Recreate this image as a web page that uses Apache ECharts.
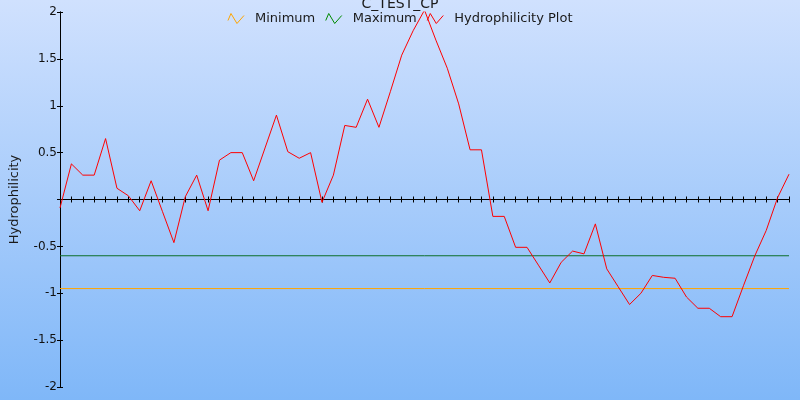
<!DOCTYPE html>
<html>
<head>
<meta charset="utf-8">
<script src="https://cdn.jsdelivr.net/npm/echarts@6/dist/echarts.min.js"></script>
<style>html,body{margin:0;padding:0;}#chart{width:800px;height:400px;}</style>
</head>
<body>
<div id="chart"></div>
<script>
// ---- data ----
var chartTitle = 'C_TEST_CP';
var yAxisName = 'Hydrophilicity';
var seriesNames = ['Minimum', 'Maximum', 'Hydrophilicity Plot'];
var positions = [];
for (var i = 0; i <= 64; i++) positions.push(i);
var hydrophilicity = [
  -0.09, 0.38, 0.26, 0.26, 0.65, 0.12, 0.04, -0.12, 0.20, -0.13,
  -0.46, 0.03, 0.26, -0.12, 0.42, 0.50, 0.50, 0.20, 0.55, 0.90,
  0.51, 0.44, 0.50, -0.03, 0.26, 0.79, 0.77, 1.07, 0.77, 1.15,
  1.54, 1.80, 2.02, 1.70, 1.40, 1.02, 0.53, 0.53, -0.18, -0.18,
  -0.51, -0.51, -0.70, -0.89, -0.67, -0.55, -0.58, -0.26, -0.74, -0.93,
  -1.12, -1.00, -0.81, -0.83, -0.84, -1.04, -1.16, -1.16, -1.25, -1.25,
  -0.92, -0.60, -0.33, 0.02, 0.27
];
var minimumLevel = -0.95;
var maximumLevel = -0.60;
var yTicks = [-2, -1.5, -1, -0.5, 0, 0.5, 1, 1.5, 2];

// ---- build ----
var font = 'DejaVu Sans';
var plotData = positions.map(function (p, i) { return [p, hydrophilicity[i]]; });
var xFirst = positions[0], xLast = positions[positions.length - 1];
var minData = [[xFirst, minimumLevel], [xLast, minimumLevel]];
var maxData = [[xFirst, maximumLevel], [xLast, maximumLevel]];
var icon = 'path://M0,7 L3,0 L9,10 L16,2';
var lineColors = ['#ffa500', '#0d6e2a', '#ff0000'];
var iconColors = ['#ffa500', '#008a00', '#ff0000'];

var chart = echarts.init(document.getElementById('chart'), null, {renderer: 'canvas'});
var xCommon = {
  type: 'value', min: xFirst, max: xLast, interval: 1,
  axisLine: {onZero: true, lineStyle: {color: '#000', width: 1}},
  axisTick: {show: true, length: 3, lineStyle: {color: '#000', width: 1}},
  axisLabel: {show: false}, splitLine: {show: false}
};
var yCommon = {
  type: 'value', min: yTicks[0], max: yTicks[yTicks.length - 1], interval: 0.5,
  axisLine: {show: true, onZero: true, lineStyle: {color: '#000', width: 1}},
  axisTick: {show: true, length: 3, lineStyle: {color: '#000', width: 1}},
  splitLine: {show: false}
};
var option = {
  backgroundColor: {
    type: 'linear', x: 0, y: 0, x2: 0, y2: 1,
    colorStops: [{offset: 0, color: '#d0e1fe'}, {offset: 1, color: '#7fb7f8'}]
  },
  animation: false,
  title: {
    text: chartTitle, left: 'center', top: -3, padding: 0,
    textStyle: {fontFamily: font, fontSize: 14, fontWeight: 'normal', color: '#1a1a1a'}
  },
  legend: {
    top: 12, left: 'center', padding: 0, itemGap: 10,
    itemWidth: 16, itemHeight: 10,
    textStyle: {fontFamily: font, fontSize: 13, color: '#1a1a1a', padding: [0, 0, 0, 6]},
    data: seriesNames.map(function (n, i) {
      return {name: n, icon: icon, itemStyle: {color: 'transparent', borderColor: iconColors[i], borderWidth: 1}};
    })
  },
  grid: {left: 59, top: 12, width: 730, height: 375},
  xAxis: [
    Object.assign({}, xCommon, {position: 'bottom'}),
    Object.assign({}, xCommon, {position: 'top'})
  ],
  yAxis: [
    Object.assign({}, yCommon, {
      position: 'left',
      name: yAxisName, nameLocation: 'middle', nameGap: 39, nameRotate: 90,
      nameTextStyle: {fontFamily: font, fontSize: 13, color: '#1a1a1a'},
      axisLabel: {
        show: true, margin: 3, fontFamily: font, fontSize: 12, color: '#111',
        formatter: function (v) { return v === 0 ? '' : String(v); }
      }
    }),
    Object.assign({}, yCommon, {position: 'right', axisLabel: {show: false}})
  ],
  series: [
    {name: seriesNames[0], type: 'line', data: minData, showSymbol: false, symbol: 'none',
     lineStyle: {color: lineColors[0], width: 1}, itemStyle: {color: lineColors[0]}, z: 3},
    {name: seriesNames[1], type: 'line', data: maxData, showSymbol: false, symbol: 'none',
     lineStyle: {color: lineColors[1], width: 1}, itemStyle: {color: lineColors[1]}, z: 3},
    {name: seriesNames[2], type: 'line', data: plotData, showSymbol: false, symbol: 'none',
     lineStyle: {color: lineColors[2], width: 1}, itemStyle: {color: lineColors[2]}, z: 4}
  ]
};
chart.setOption(option);
</script>
</body>
</html>
